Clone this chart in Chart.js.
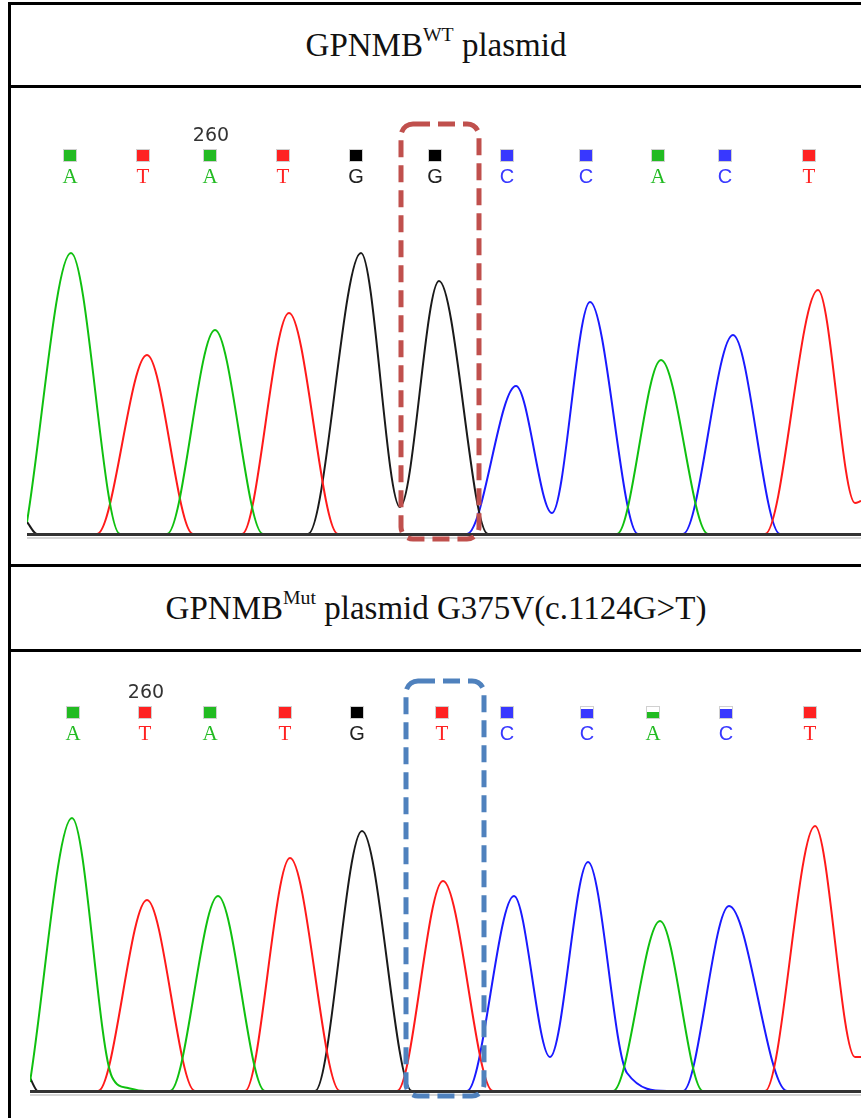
<!DOCTYPE html>
<html>
<head>
<meta charset="utf-8">
<script src="https://cdn.jsdelivr.net/npm/chart.js@4.4.1/dist/chart.umd.min.js"></script>
<style>
html, body { margin: 0; padding: 0; background: #fff; }
#page { position: relative; width: 861px; height: 1118px; overflow: hidden; background: #fff; }
.hline { position: absolute; left: 8px; right: 0; height: 3px; background: #000; }
.vline { position: absolute; left: 8px; top: 2px; bottom: 0; width: 3px; background: #000; }
.head { position: absolute; left: 11px; right: 0; text-align: center; font-family: "Liberation Serif", serif; font-size: 33px; color: #111; line-height: 40px; }
.head sup { font-size: 0.6em; vertical-align: baseline; position: relative; top: -0.75em; }
canvas { position: absolute; }
</style>
</head>
<body>
<div id="page">
  <div class="vline"></div>
  <div class="hline" style="top:2px"></div>
  <div class="hline" style="top:85px"></div>
  <div class="hline" style="top:564px"></div>
  <div class="hline" style="top:649px"></div>
  <div class="head" style="top:25px">GPNMB<sup>WT</sup> plasmid</div>
  <div class="head" style="top:588px">GPNMB<sup>Mut</sup> plasmid G375V(c.1124G&gt;T)</div>
  <canvas id="wt" width="849" height="474" style="left:12px;top:89px"></canvas>
  <canvas id="mut" width="849" height="466" style="left:12px;top:652px"></canvas>
</div>
<script>
// base calls (scan position of each call) and call quality
const wtBases   = ['A', 'T', 'A', 'T', 'G', 'G', 'C', 'C', 'A', 'C', 'T'];
const wtCallPos = [70, 143, 210, 283, 356, 435, 507, 586, 658, 725, 809];
const wtPeakPos = [71, 147, 215, 289, 362, 438, 516, 590, 661, 733, 818];
const wtQual    = [1, 1, 1, 1, 1, 1, 1, 1, 1, 1, 1];

const mutBases   = ['A', 'T', 'A', 'T', 'G', 'T', 'C', 'C', 'A', 'C', 'T'];
const mutCallPos = [73, 145, 210, 285, 357, 442, 507, 587, 653, 726, 810];
const mutPeakPos = [72, 147, 218, 290, 362, 443, 514, 588, 660, 729, 815];
const mutQual    = [1, 1, 1, 1, 1, 1, 1, 0.8, 0.55, 0.8, 1];

// traces: [scan, signal]
const wtA = [[27, 12], [71, 281], [120, 0], [167, 0], [215, 204], [263, 0], [617, 0], [661, 174], [708, 0], [861, 0]];
const wtT = [[27, 0], [97, 0], [147, 179], [193, 0], [242, 0], [289, 221], [338, 0], [765, 0], [818, 244], [855, 31], [861, 33]];
const wtG = [[27, 12], [37, 0], [308, 0], [361, 281], [400, 27], [439, 253], [488, 0], [861, 0]];
const wtC = [[27, 0], [467, 0], [516, 148], [552, 21], [590, 232], [638, 0], [683, 0], [733, 199], [780, 0], [861, 0]];

const mutA = [[30, 9], [72, 273], [112, 14], [128, 3], [145, 0], [170, 0], [218, 195], [265, 0], [613, 0], [660, 170], [703, 0], [861, 0]];
const mutT = [[30, 0], [98, 0], [147, 191], [195, 0], [245, 0], [290, 233], [340, 0], [397, 0], [443, 210], [493, 0], [765, 0], [815, 265], [855, 34], [861, 34]];
const mutG = [[30, 13], [38, 0], [315, 0], [362, 260], [412, 0], [861, 0]];
const mutC = [[30, 0], [467, 0], [514, 195], [550, 34], [588, 229], [627, 18], [667, 0], [683, 0], [729, 185], [787, 0], [861, 0]];

const traceColor = { A: '#10c010', T: '#ff1a1a', G: '#1a1a1a', C: '#1a1aff' };
const callColor  = { A: '#22bb22', T: '#ff2222', G: '#222222', C: '#3838ff' };

function overlay(cfg) {
  return {
    id: 'overlay',
    afterDraw(chart) {
      const ctx = chart.ctx;
      const area = chart.chartArea;
      const xs = chart.scales.x;
      ctx.save();
      // baseline, on top of the flat trace parts
      ctx.strokeStyle = '#d6d6d6';
      ctx.lineWidth = 2;
      ctx.beginPath();
      ctx.moveTo(area.left, area.bottom + 4);
      ctx.lineTo(chart.width, area.bottom + 4);
      ctx.stroke();
      ctx.strokeStyle = '#333';
      ctx.lineWidth = 3;
      ctx.beginPath();
      ctx.moveTo(area.left, area.bottom + 0.5);
      ctx.lineTo(chart.width, area.bottom + 0.5);
      ctx.stroke();

      // base calls
      cfg.bases.forEach((b, i) => {
        const x = Math.round(xs.getPixelForValue(cfg.pos[i]));
        const sy = cfg.squareY;
        ctx.fillStyle = '#d0d0d0';
        ctx.fillRect(x - 7, sy - 6, 14, 13);
        ctx.fillStyle = '#fff';
        ctx.fillRect(x - 6, sy - 5, 12, 11);
        const h = Math.round(11 * cfg.qual[i]);
        ctx.fillStyle = b === 'G' ? '#000' : callColor[b];
        ctx.fillRect(x - 6, sy - 5 + (11 - h), 12, h);

        ctx.fillStyle = callColor[b];
        ctx.textAlign = 'center';
        ctx.textBaseline = 'middle';
        ctx.font = (b === 'A' || b === 'T') ? '21px "Liberation Serif"' : '20px "Liberation Sans"';
        ctx.fillText(b, x, cfg.letterY);
      });

      // position label
      ctx.fillStyle = '#333';
      ctx.font = '19px "DejaVu Sans"';
      ctx.textAlign = 'center';
      ctx.textBaseline = 'middle';
      ctx.fillText(cfg.label, xs.getPixelForValue(cfg.pos[cfg.labelIdx]) + 1, cfg.labelY);

      // highlight box round the changed base
      const cx = xs.getPixelForValue(cfg.peaks[cfg.boxIdx]) + 2;
      ctx.strokeStyle = cfg.boxColor;
      ctx.lineWidth = 5;
      ctx.setLineDash([17, 8]);
      ctx.beginPath();
      ctx.roundRect(cx - 39, cfg.boxTop, 78, cfg.boxBottom - cfg.boxTop, 12);
      ctx.stroke();
      ctx.restore();
    }
  };
}

function makeChart(id, traces, cfg) {
  const datasets = ['A', 'T', 'G', 'C'].map(b => ({
    label: b,
    data: traces[b].map(p => ({ x: p[0], y: p[1] })),
    borderColor: traceColor[b],
    borderWidth: 2,
    pointRadius: 0,
    fill: false,
    cubicInterpolationMode: 'monotone'
  }));
  return new Chart(document.getElementById(id).getContext('2d'), {
    type: 'line',
    data: { datasets: datasets },
    options: {
      responsive: false,
      animation: false,
      layout: { padding: { left: cfg.padLeft, right: 0, top: 111, bottom: cfg.padBottom } },
      plugins: { legend: { display: false }, tooltip: { enabled: false } },
      scales: {
        x: { type: 'linear', display: false, min: cfg.xMin, max: 861 },
        y: { display: false, min: 0, max: cfg.yMax }
      }
    },
    plugins: [overlay(cfg)]
  });
}

makeChart('wt', { A: wtA, T: wtT, G: wtG, C: wtC }, {
  bases: wtBases, pos: wtCallPos, peaks: wtPeakPos, qual: wtQual,
  label: '260', labelIdx: 2, boxIdx: 5, boxColor: 'rgb(192,80,77)',
  padLeft: 15, padBottom: 29, xMin: 27, yMax: 334,
  squareY: 66, letterY: 88, labelY: 47, boxTop: 35, boxBottom: 450
});

makeChart('mut', { A: mutA, T: mutT, G: mutG, C: mutC }, {
  bases: mutBases, pos: mutCallPos, peaks: mutPeakPos, qual: mutQual,
  label: '260', labelIdx: 1, boxIdx: 5, boxColor: 'rgb(79,129,189)',
  padLeft: 18, padBottom: 27, xMin: 30, yMax: 328,
  squareY: 60, letterY: 82, labelY: 41, boxTop: 29, boxBottom: 444
});
</script>
</body>
</html>
